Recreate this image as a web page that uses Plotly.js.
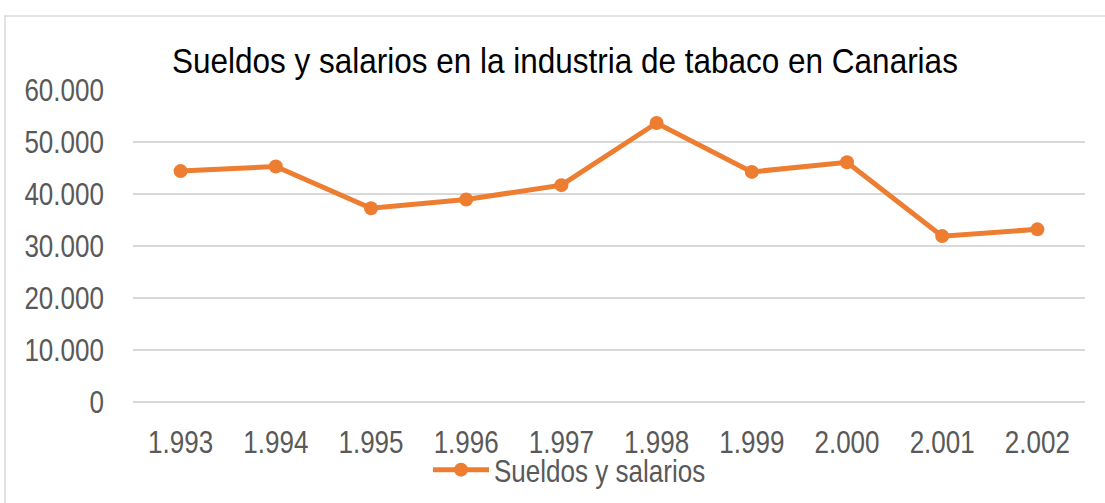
<!DOCTYPE html>
<html>
<head>
<meta charset="utf-8">
<script src="https://cdn.plot.ly/plotly-3.0.1.min.js"></script>
<style>
  html, body { margin: 0; padding: 0; background: #fff; }
  #chart { width: 1105px; height: 503px; }
</style>
</head>
<body>
<div id="chart"></div>
<script>
const years = ['1.993', '1.994', '1.995', '1.996', '1.997', '1.998', '1.999', '2.000', '2.001', '2.002'];
const sueldos = [44400, 45300, 37250, 38950, 41700, 53650, 44250, 46100, 31900, 33200];
const yTickVals = [0, 10000, 20000, 30000, 40000, 50000, 60000];
const yTickText = ['0', '10.000', '20.000', '30.000', '40.000', '50.000', '60.000'];
const seriesName = 'Sueldos y salarios';
const chartTitle = 'Sueldos y salarios en la industria de tabaco en Canarias';

const FONT = '"Liberation Sans", Arial, sans-serif';
const W = 1105, H = 503;
const margin = { l: 133, r: 20, t: 90, b: 101 };
const pw = W - margin.l - margin.r, ph = H - margin.t - margin.b;
const px2x = p => (p - margin.l) / pw;
const px2y = p => (H - margin.b - p) / ph;

const trace = {
  x: years,
  y: sueldos,
  type: 'scatter',
  mode: 'lines+markers',
  name: seriesName,
  line: { color: '#ED7D31', width: 5 },
  marker: { color: '#ED7D31', size: 14 },
  cliponaxis: false
};

const layout = {
  width: W,
  height: H,
  margin: margin,
  paper_bgcolor: '#ffffff',
  plot_bgcolor: '#ffffff',
  font: { family: FONT, color: '#595959', size: 31 },
  title: {
    text: chartTitle,
    font: { family: FONT, size: 35, color: '#000000' },
    xref: 'container', yref: 'container',
    x: 172 / W, xanchor: 'left',
    y: 1 - 61 / H, yanchor: 'middle'
  },
  xaxis: {
    type: 'category',
    range: [-0.5, years.length - 0.5],
    showgrid: false,
    showline: false,
    zeroline: false,
    ticks: '',
    ticklabelstandoff: 19,
    tickfont: { family: FONT, size: 31, color: '#595959' }
  },
  yaxis: {
    range: [0, 60000],
    tickvals: yTickVals,
    ticktext: yTickText,
    showgrid: true,
    gridcolor: '#d9d9d9',
    gridwidth: 1.5,
    zeroline: true,
    zerolinecolor: '#d9d9d9',
    zerolinewidth: 1.5,
    showline: false,
    ticks: '',
    ticklabelstandoff: 28,
    tickfont: { family: FONT, size: 31, color: '#595959' }
  },
  showlegend: true,
  legend: {
    orientation: 'h',
    xref: 'container', yref: 'container',
    x: 428 / W, xanchor: 'left',
    y: 1 - 470 / H, yanchor: 'middle',
    itemwidth: 56,
    font: { family: FONT, size: 31, color: '#595959' },
    bgcolor: 'rgba(0,0,0,0)'
  },
  shapes: [{
    type: 'rect',
    xref: 'paper', yref: 'paper',
    x0: px2x(5), x1: px2x(1120),
    y0: px2y(520), y1: px2y(16),
    line: { color: '#d9d9d9', width: 1.5 },
    fillcolor: 'rgba(0,0,0,0)',
    layer: 'below'
  }]
};

// The reference uses a narrow sans face; emulate it by condensing text horizontally.
function condense(el, s) {
  const x = parseFloat(el.getAttribute('x')) || 0;
  const t = el.getAttribute('transform') || '';
  el.setAttribute('transform', t + ' translate(' + x + ',0) scale(' + s + ',1) translate(' + (-x) + ',0)');
}

Plotly.newPlot('chart', [trace], layout, { displayModeBar: false, staticPlot: true }).then(function (gd) {
  gd.querySelectorAll('text').forEach(function (el) {
    const isTitle = el.classList.contains('gtitle');
    condense(el, isTitle ? 0.9 : 0.84);
  });
});
</script>
</body>
</html>
